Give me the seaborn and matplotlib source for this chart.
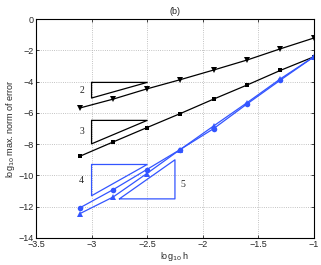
import numpy as np
import pandas as pd
import matplotlib
matplotlib.use("Agg")
import matplotlib.pyplot as plt
import seaborn as sns

# log10 of step size (h halved each time)
log_h = [-3.107, -2.806, -2.505, -2.204, -1.903, -1.602, -1.301, -1.0]

# log10 of max norm of error
err_o2 = [-5.69, -5.12, -4.47, -3.88, -3.26, -2.62, -1.90, -1.21]
err_o3 = [-8.78, -7.86, -6.95, -6.05, -5.12, -4.22, -3.28, -2.41]
err_o4 = [-12.08, -10.91, -9.63, -8.35, -7.01, -5.43, -3.90, -2.41]
err_o5 = [-12.45, -11.38, -9.89, -8.35, -6.84, -5.35, -3.82, -2.41]

# slope triangles: x coords, y coords, label, label position
tri_2 = ([-3.0, -2.5, -3.0, -3.0], [-4.05, -4.05, -5.05, -4.05], "2", (-3.09, -4.55))
tri_3 = ([-3.0, -2.5, -3.0, -3.0], [-6.48, -6.48, -7.98, -6.48], "3", (-3.09, -7.2))
tri_4 = ([-3.0, -2.5, -3.0, -3.0], [-9.3, -9.3, -11.3, -9.3], "4", (-3.09, -10.35))
tri_5 = ([-2.75, -2.25, -2.25, -2.75], [-11.5, -9.0, -11.5, -11.5], "5", (-2.18, -10.55))

blue = "#3355ff"

sns.set_style("ticks")
plt.rcParams['font.family'] = ['Liberation Sans', 'DejaVu Sans']

fig = plt.figure(figsize=(3.21, 2.65), dpi=100)
ax = fig.add_axes([0.112, 0.102, 0.866, 0.826])

df = pd.DataFrame({"h": log_h, "o2": err_o2, "o3": err_o3, "o4": err_o4, "o5": err_o5})

sns.lineplot(data=df, x="h", y="o2", color="black", marker="v", markersize=4,
             markeredgewidth=0, linewidth=0.9, ax=ax)
sns.lineplot(data=df, x="h", y="o3", color="black", marker="s", markersize=3.5,
             markeredgewidth=0, linewidth=0.9, ax=ax)
sns.lineplot(data=df, x="h", y="o4", color=blue, marker="o", markersize=4,
             markeredgewidth=0, linewidth=0.9, ax=ax)
sns.lineplot(data=df, x="h", y="o5", color=blue, marker="^", markersize=4.5,
             markeredgewidth=0, linewidth=0.9, ax=ax)

for tx, ty, lab, pos, c in [(*tri_2, "black"), (*tri_3, "black"),
                            (*tri_4, blue), (*tri_5, blue)]:
    ax.plot(tx, ty, color=c, linewidth=0.9)
    ax.text(pos[0], pos[1], lab, fontsize=7, family="Liberation Serif",
            ha="center", va="center")

ax.set_xlim(-3.5, -1)
ax.set_ylim(-14, 0)
ax.set_xticks(np.arange(-3.5, -0.99, 0.5))
ax.set_xticklabels(["\u22123.5", "\u22123", "\u22122.5", "\u22122", "\u22121.5", "\u22121"])
ax.set_yticks(np.arange(-14, 0.1, 2))
ax.set_yticklabels(["\u221214", "\u221212", "\u221210", "\u22128", "\u22126", "\u22124", "\u22122", "0"])
ax.grid(True, linestyle=":", color="#b0b0b0", linewidth=0.6)
ax.tick_params(labelsize=6.5, direction="in", length=2, width=0.6, pad=1.5,
               top=True, right=True)
for s in ax.spines.values():
    s.set_linewidth(0.8)
    s.set_color("black")

ax.set_xlabel("log$_{10}$ h", fontsize=6.5, labelpad=1)
ax.set_ylabel("log$_{10}$ max. norm of error", fontsize=6.5, labelpad=1)
ax.set_title("(b)", fontsize=6.5, pad=4)

fig.savefig("out.png", dpi=100)
